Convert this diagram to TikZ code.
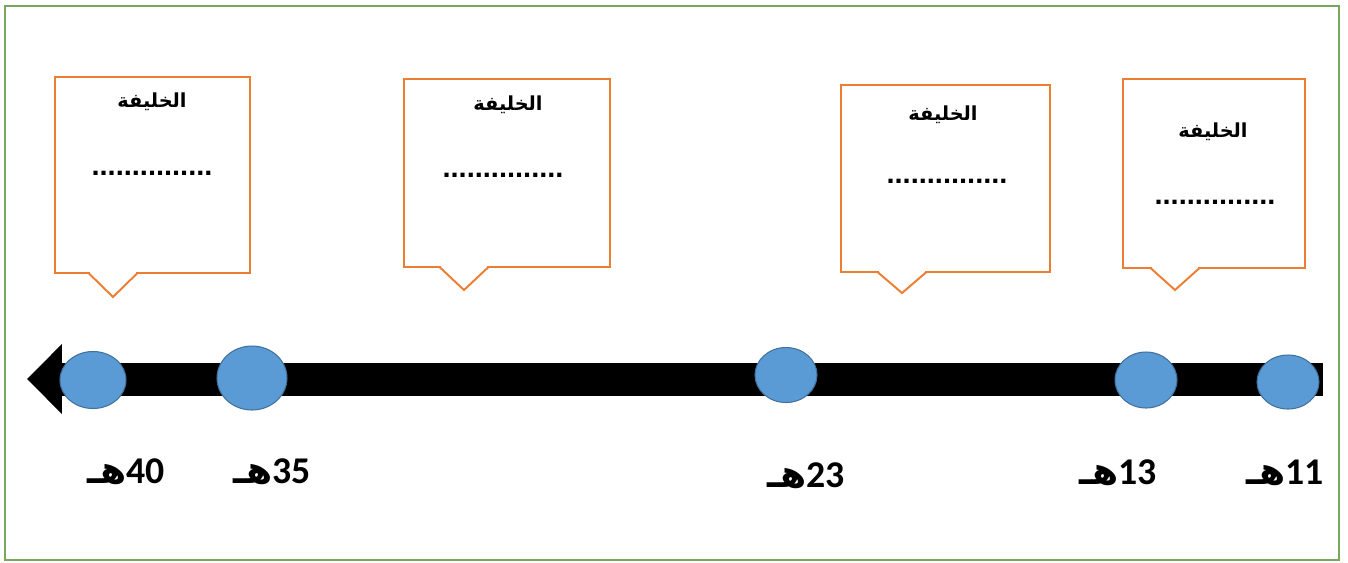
\documentclass[tikz,border=0pt]{standalone}
\usepackage{fontspec}
\setmainfont{Liberation Sans}
\newfontfamily\arabicfont[Script=Arabic]{DejaVu Sans}
\newfontfamily\digitfont{Carlito}
\TeXXeTstate=1
\usetikzlibrary{arrows.meta, shapes.geometric}
\definecolor{framegreen}{HTML}{78A85A}
\definecolor{boxorange}{HTML}{ED7D31}
\definecolor{dotblue}{HTML}{5B9BD5}
\definecolor{dotedge}{HTML}{41719C}

\begin{document}
\begin{tikzpicture}[x=0.02cm, y=-0.02cm,
  border/.style={draw=framegreen, line width=1.2pt},
  capbox/.style={rectangle, draw=boxorange, fill=white, line width=1.1pt,
                 inner sep=0pt, outer sep=0pt},
  tail/.style={draw=boxorange, line width=1.1pt, line join=miter},
  gap/.style={fill=white},
  caliph/.style={font=\arabicfont\bfseries\fontsize{11}{13}\selectfont},
  blank/.style={font=\bfseries\fontsize{16.5}{18}\selectfont, anchor=base},
  year/.style={ellipse, fill=dotblue, draw=dotedge, line width=0.6pt, inner sep=0pt},
  hijri/.style={font=\bfseries\fontsize{21.5}{24}\selectfont, anchor=base},
  bar/.style={line width=0.66cm, -{Triangle[length=0.7cm, width=1.36cm]}},
]
\useasboundingbox (0,0) rectangle (1348,562);
\draw[border] (5,6) rectangle (1339,560);
% callout boxes
\node[capbox, minimum width=3.9cm, minimum height=3.92cm] (cap1) at (152.5,175) {};
\node[capbox, minimum width=4.12cm, minimum height=3.76cm] (cap2) at (507,173) {};
\node[capbox, minimum width=4.18cm, minimum height=3.74cm] (cap3) at (945.5,178.5) {};
\node[capbox, minimum width=3.64cm, minimum height=3.78cm] (cap4) at (1214,173.5) {};
\coordinate (tip1) at (113,297);
\coordinate (tip2) at (464,290);
\coordinate (tip3) at (902,293);
\coordinate (tip4) at (1175,290);
% pointers below the boxes
\fill[gap] (tip1) ++(-23,-26) rectangle ++(46,4);
\draw[tail] (tip1) ++(-24.5,-24) -- (tip1) -- ++(24.5,-24);
\fill[gap] (tip2) ++(-23,-25) rectangle ++(46,4);
\draw[tail] (tip2) ++(-24.5,-23) -- (tip2) -- ++(24.5,-23);
\fill[gap] (tip3) ++(-23,-23) rectangle ++(46,4);
\draw[tail] (tip3) ++(-24.5,-21) -- (tip3) -- ++(24.5,-21);
\fill[gap] (tip4) ++(-23,-24) rectangle ++(46,4);
\draw[tail] (tip4) ++(-24.5,-22) -- (tip4) -- ++(24.5,-22);
\node[caliph] (name1) at (152,102) {\beginR الخليفة\endR};
\node[caliph] (name2) at (508,105) {\beginR الخليفة\endR};
\node[caliph] (name3) at (943,115) {\beginR الخليفة\endR};
\node[caliph] (name4) at (1213,132) {\beginR الخليفة\endR};
\node[blank] (fill1) at (152,175) {...............};
\node[blank] (fill2) at (503,177) {...............};
\node[blank] (fill3) at (947,183) {...............};
\node[blank] (fill4) at (1215,204) {...............};
% time line
\coordinate (tlend) at (1323,379);
\coordinate (tltip) at (27,379);
\draw[bar] (tlend) -- (tltip);
\node[year, minimum width=1.32cm, minimum height=1.14cm] (y40) at (93,380) {};
\node[year, minimum width=1.4cm, minimum height=1.28cm] (y35) at (252,378) {};
\node[year, minimum width=1.24cm, minimum height=1.1cm] (y23) at (786,375) {};
\node[year, minimum width=1.24cm, minimum height=1.12cm] (y13) at (1146,380) {};
\node[year, minimum width=1.24cm, minimum height=1.08cm] (y11) at (1288,382) {};
% years
\node[hijri] (l40) at (126,483) {\beginR{\digitfont\beginL 40\endL}{\arabicfont هـ}\endR};
\node[hijri] (l35) at (272,483) {\beginR{\digitfont\beginL 35\endL}{\arabicfont هـ}\endR};
\node[hijri] (l23) at (806,487) {\beginR{\digitfont\beginL 23\endL}{\arabicfont هـ}\endR};
\node[hijri] (l13) at (1118,484) {\beginR{\digitfont\beginL 13\endL}{\arabicfont هـ}\endR};
\node[hijri] (l11) at (1285,484) {\beginR{\digitfont\beginL 11\endL}{\arabicfont هـ}\endR};
\end{tikzpicture}
\end{document}
